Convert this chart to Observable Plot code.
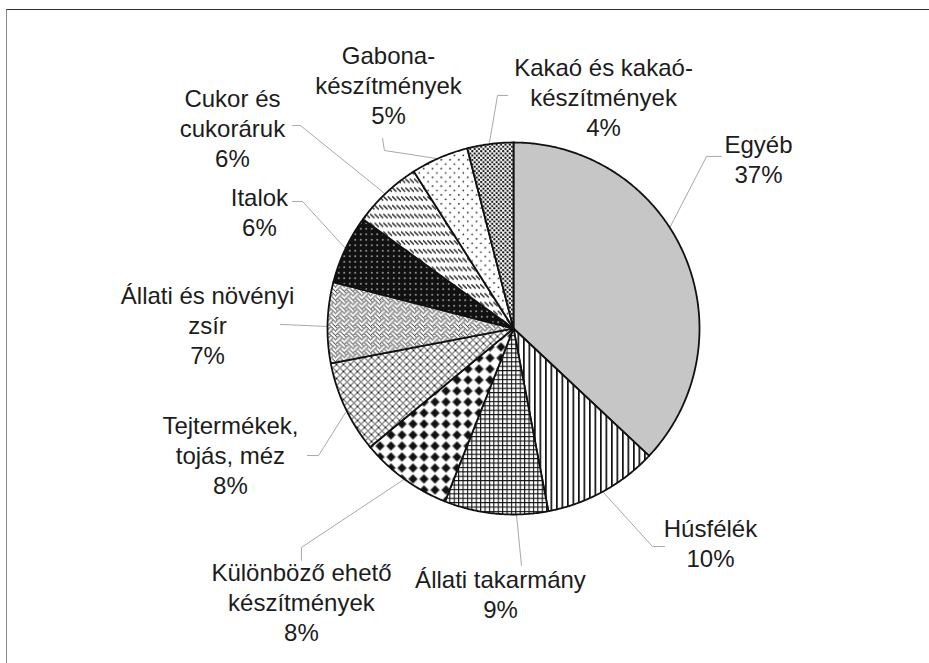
<!DOCTYPE html>
<html><head><meta charset="utf-8">
<script src="https://cdn.jsdelivr.net/npm/d3@7"></script>
<script src="https://cdn.jsdelivr.net/npm/@observablehq/plot@0.6"></script>
<style>
html,body{margin:0;padding:0;background:#fff;overflow:hidden;}
#wrap{position:relative;width:929px;height:663px;overflow:hidden;}
#frame{position:absolute;left:6px;top:9px;width:1000px;height:1000px;border-left:1.5px solid #8a8a8a;border-top:1.5px solid #333;pointer-events:none;}
#chart{position:absolute;left:0;top:0;}
</style></head><body>
<div id="wrap"><div id="frame"></div><div id="chart"></div></div>
<script>
// ---- data ----
const categories = ["Egyéb","Húsfélék","Állati takarmány","Különböző ehető készítmények","Tejtermékek, tojás, méz","Állati és növényi zsír","Italok","Cukor és cukoráruk","Gabona-készítmények","Kakaó és kakaó-készítmények"];
const shares = [37,10,9,8,8,7,6,6,5,4];
const labelLines = [["Egyéb"],["Húsfélék"],["Állati takarmány"],["Különböző ehető","készítmények"],["Tejtermékek,","tojás, méz"],["Állati és növényi","zsír"],["Italok"],["Cukor és","cukoráruk"],["Gabona-","készítmények"],["Kakaó és kakaó-","készítmények"]];

// ---- layout (pie-radius units, pie centre = 0,0) ----
const labelPos = [[1.317,0.914],[1.059,-1.151],[-0.070,-1.425],[-1.140,-1.468],[-1.522,-0.677],[-1.645,0.022],[-1.366,0.629],[-1.511,1.081],[-0.672,1.310],[0.484,1.247]];
const leaderPaths = [
  [[1.118,0.925],[1.038,0.925],[0.840,0.542]],
  [[0.812,-1.172],[0.747,-1.172],[0.484,-0.882]],
  [[0.043,-1.274],[0.016,-1.0]],
  [[-1.140,-1.247],[-1.140,-1.177],[-0.587,-0.810]],
  [[-1.108,-0.683],[-1.048,-0.683],[-0.903,-0.452]],
  [[-1.253,0.022],[-1.0,0.011]],
  [[-1.188,0.683],[-1.134,0.683],[-0.903,0.430]],
  [[-1.188,1.091],[-1.145,1.091],[-0.699,0.731]],
  [[-0.704,1.022],[-0.694,0.957],[-0.414,0.914]],
  [[-0.032,1.253],[-0.086,1.253],[-0.129,1.0]]
];

// ---- slices from shares ----
let cum = 0;
const slices = shares.map((v, i) => {
  const a0 = cum / 100 * 2 * Math.PI; cum += v; const a1 = cum / 100 * 2 * Math.PI;
  const n = Math.max(2, Math.ceil((a1 - a0) / (Math.PI / 360)));
  const pts = [{x: 0, y: 0}];
  for (let k = 0; k <= n; k++) { const a = a0 + (a1 - a0) * k / n; pts.push({x: Math.sin(a), y: Math.cos(a)}); }
  return {i, pts};
});

const leaderRows = leaderPaths.flatMap((p, i) => p.map(([x, y]) => ({i, x, y})));
const labelRows = categories.map((c, i) => ({text: [...labelLines[i], shares[i] + "%"].join("\n"), x: labelPos[i][0], y: labelPos[i][1]}));

const marks = [
  Plot.line(leaderRows, {x: "x", y: "y", z: "i", stroke: "#a8a8a8", strokeWidth: 1}),
  ...slices.map(s => Plot.line(s.pts, {x: "x", y: "y", curve: "linear-closed", fill: `url(#pat${s.i})`, stroke: "#111", strokeWidth: 1.8, strokeLinejoin: "round"})),
  Plot.text(labelRows, {x: "x", y: "y", text: "text", fontSize: 24, lineHeight: 1.25, fill: "#1c1c1c", textAnchor: "middle", lineAnchor: "middle"})
];

const svg = Plot.plot({
  width: 929, height: 663, margin: 0,
  x: {domain: [-1, 1], range: [327, 699], axis: null},
  y: {domain: [-1, 1], range: [514, 142], axis: null},
  style: {fontFamily: "Arial, 'Liberation Sans', sans-serif", background: "transparent", overflow: "visible"},
  marks
});

// ---- fill patterns ----
function bits(rows, s, color) {
  let out = "";
  rows.forEach((b, r) => { for (let c = 0; c < 8; c++) if (b & (0x80 >> c)) out += `<rect x="${c*s}" y="${r*s}" width="${s}" height="${s}" fill="${color}"/>`; });
  return out;
}
const S = 1.1;
const defs = document.createElementNS("http://www.w3.org/2000/svg", "defs");
defs.innerHTML = `
<pattern id="pat0" patternUnits="userSpaceOnUse" width="10" height="10"><rect width="10" height="10" fill="#c6c6c6"/></pattern>
<pattern id="pat1" patternUnits="userSpaceOnUse" width="5.5" height="10"><rect width="5.5" height="10" fill="#fff"/><rect x="0" width="1.7" height="10" fill="#111"/></pattern>
<pattern id="pat2" patternUnits="userSpaceOnUse" width="4.4" height="4.4"><rect width="4.4" height="4.4" fill="#fff"/><path d="M0,0.55H4.4M0.55,0V4.4" stroke="#111" stroke-width="1.1"/></pattern>
<pattern id="pat3" patternUnits="userSpaceOnUse" width="11" height="11"><rect width="11" height="11" fill="#fff"/><path d="M5.5,1.1L9.9,5.5L5.5,9.9L1.1,5.5Z" fill="#111" stroke="#111" stroke-width="0.5" stroke-linejoin="round"/></pattern>
<pattern id="pat4" patternUnits="userSpaceOnUse" width="7" height="7"><rect width="7" height="7" fill="#fff"/><path d="M-1,-1L8,8M8,-1L-1,8" stroke="#222" stroke-width="1"/></pattern>
<pattern id="pat5" patternUnits="userSpaceOnUse" width="${8*S}" height="${8*S}"><rect width="${8*S}" height="${8*S}" fill="#fff"/>${bits([0x88,0x54,0x22,0x45,0x88,0x14,0x22,0x51], S, "#222")}</pattern>
<pattern id="pat6" patternUnits="userSpaceOnUse" width="5.5" height="5.5"><rect width="5.5" height="5.5" fill="#111"/><rect x="2.1" y="2.1" width="1.3" height="1.3" fill="#fff"/></pattern>
<pattern id="pat7" patternUnits="userSpaceOnUse" width="4.4" height="8.8"><rect width="4.4" height="8.8" fill="#fff"/><path d="M0,2.2L4.4,6.6" stroke="#222" stroke-width="1.3"/></pattern>
<pattern id="pat8" patternUnits="userSpaceOnUse" width="8.8" height="8.8"><rect width="8.8" height="8.8" fill="#fff"/><circle cx="0.8" cy="0.8" r="0.85" fill="#222"/><circle cx="5.2" cy="5.2" r="0.85" fill="#222"/></pattern>
<pattern id="pat9" patternUnits="userSpaceOnUse" width="4.4" height="4.4"><rect width="4.4" height="4.4" fill="#fff"/><circle cx="1.1" cy="1.1" r="1.15" fill="#111"/><circle cx="3.3" cy="3.3" r="1.15" fill="#111"/></pattern>
`;
svg.insertBefore(defs, svg.firstChild);
document.getElementById("chart").appendChild(svg);
</script>
</body></html>
